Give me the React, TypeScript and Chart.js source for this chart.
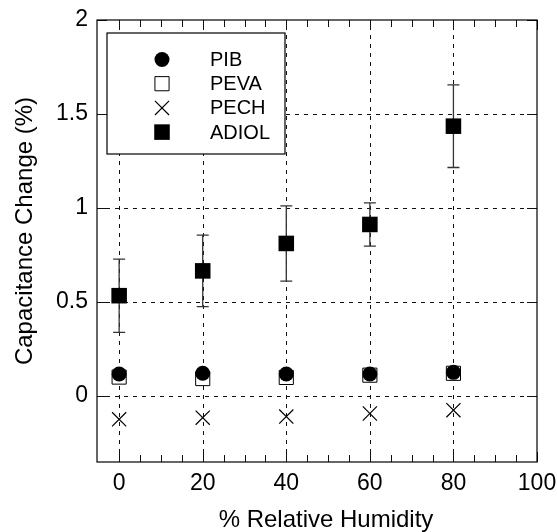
import React, { useEffect, useRef } from 'react';
import { Chart, registerables } from 'chart.js';

Chart.register(...registerables);

// ---- data ----
const humidity = [0, 20, 40, 60, 80];
const pib = [0.116, 0.12, 0.116, 0.116, 0.125];
const peva = [0.1, 0.092, 0.098, 0.11, 0.12];
const pech = [-0.125, -0.116, -0.11, -0.094, -0.076];
const adiol = [0.533, 0.665, 0.811, 0.912, 1.435];
const adiolErr = [0.195, 0.19, 0.2, 0.115, 0.22];

const seriesNames = ['PIB', 'PEVA', 'PECH', 'ADIOL'];
const xTicks = [0, 20, 40, 60, 80, 100];
const yTicks = [0, 0.5, 1, 1.5, 2];
const yTickLabels = ['0', '0.5', '1', '1.5', '2'];
const xMinorTicks = [0, 5, 10, 15, 20, 25, 30, 35, 40, 45, 50, 55, 60, 65, 70, 75, 80, 85, 90, 95, 100];

const xTitle = '% Relative Humidity';
const yTitle = 'Capacitance Change (%)';

const FONT = '"Liberation Sans", Arial, Helvetica, sans-serif';

const framePlugin = {
  id: 'frame',
  beforeDatasetsDraw(chart: any) {
    const { ctx, chartArea: a, scales } = chart;
    const x = scales.x;
    const y = scales.y;
    ctx.save();
    // dashed grid
    ctx.strokeStyle = '#111';
    ctx.lineWidth = 1;
    ctx.setLineDash([4, 5]);
    xTicks.forEach((v) => {
      const px = Math.round(x.getPixelForValue(v)) + 0.5;
      if (px <= a.left + 1 || px >= a.right - 1) return;
      ctx.beginPath();
      ctx.moveTo(px, a.bottom);
      ctx.lineTo(px, a.top);
      ctx.stroke();
    });
    yTicks.forEach((v) => {
      const py = Math.round(y.getPixelForValue(v)) + 0.5;
      if (py <= a.top + 1 || py >= a.bottom - 1) return;
      ctx.beginPath();
      ctx.moveTo(a.left, py);
      ctx.lineTo(a.right, py);
      ctx.stroke();
    });
    ctx.setLineDash([]);
    // inward ticks
    ctx.strokeStyle = '#111';
    xMinorTicks.forEach((v) => {
      const px = Math.round(x.getPixelForValue(v)) + 0.5;
      const len = xTicks.includes(v) ? 10 : 7;
      ctx.beginPath();
      ctx.moveTo(px, a.bottom);
      ctx.lineTo(px, a.bottom - len);
      ctx.moveTo(px, a.top);
      ctx.lineTo(px, a.top + len);
      ctx.stroke();
    });
    yTicks.forEach((v) => {
      const py = Math.round(y.getPixelForValue(v)) + 0.5;
      ctx.beginPath();
      ctx.moveTo(a.left, py);
      ctx.lineTo(a.left + 10, py);
      ctx.moveTo(a.right, py);
      ctx.lineTo(a.right - 10, py);
      ctx.stroke();
    });
    // border
    ctx.strokeStyle = '#000';
    ctx.lineWidth = 1.2;
    ctx.strokeRect(a.left, a.top, a.right - a.left, a.bottom - a.top);
    // error bars for ADIOL
    ctx.strokeStyle = '#333';
    ctx.lineWidth = 1.3;
    humidity.forEach((h, i) => {
      const px = x.getPixelForValue(h);
      const top = y.getPixelForValue(adiol[i] + adiolErr[i]);
      const bot = y.getPixelForValue(adiol[i] - adiolErr[i]);
      ctx.beginPath();
      ctx.moveTo(px, top);
      ctx.lineTo(px, bot);
      ctx.moveTo(px - 6, top);
      ctx.lineTo(px + 6, top);
      ctx.moveTo(px - 6, bot);
      ctx.lineTo(px + 6, bot);
      ctx.stroke();
    });
    ctx.restore();
  },
  afterDraw(chart: any) {
    const { ctx } = chart;
    ctx.save();
    ctx.fillStyle = '#000';
    ctx.font = `24px ${FONT}`;
    ctx.textAlign = 'center';
    ctx.textBaseline = 'alphabetic';
    ctx.fillText(xTitle, 326, 527);
    ctx.translate(32, 231);
    ctx.rotate(-Math.PI / 2);
    ctx.fillText(yTitle, 0, 0);
    ctx.restore();
  },
};

function drawMarker(ctx: CanvasRenderingContext2D, ds: any, cx: number, cy: number) {
  const r = ds.pointRadius;
  ctx.save();
  ctx.fillStyle = ds.backgroundColor;
  ctx.strokeStyle = ds.borderColor;
  ctx.lineWidth = ds.borderWidth;
  ctx.beginPath();
  if (ds.pointStyle === 'circle') {
    ctx.arc(cx, cy, r, 0, Math.PI * 2);
    ctx.fill();
    if (ds.borderWidth) ctx.stroke();
  } else if (ds.pointStyle === 'rect') {
    const s = Math.SQRT1_2 * r;
    ctx.rect(cx - s, cy - s, 2 * s, 2 * s);
    ctx.fill();
    if (ds.borderWidth) ctx.stroke();
  } else if (ds.pointStyle === 'crossRot') {
    const s = Math.SQRT1_2 * r;
    ctx.moveTo(cx - s, cy - s);
    ctx.lineTo(cx + s, cy + s);
    ctx.moveTo(cx - s, cy + s);
    ctx.lineTo(cx + s, cy - s);
    ctx.stroke();
  }
  ctx.restore();
}

const legendPlugin = {
  id: 'boxLegend',
  afterDatasetsDraw(chart: any) {
    const { ctx } = chart;
    const bx = 107;
    const by = 33;
    const bw = 178;
    const bh = 121;
    ctx.save();
    ctx.fillStyle = '#fff';
    ctx.fillRect(bx, by, bw, bh);
    ctx.strokeStyle = '#000';
    ctx.lineWidth = 1.2;
    ctx.strokeRect(bx, by, bw, bh);
    ctx.font = `20px ${FONT}`;
    ctx.textBaseline = 'middle';
    ctx.textAlign = 'left';
    chart.data.datasets.forEach((ds: any, i: number) => {
      const cy = 59.5 + i * 24.2;
      drawMarker(ctx, ds, 162, cy);
      ctx.fillStyle = '#000';
      ctx.fillText(ds.label, 210, cy + 1);
    });
    ctx.restore();
  },
};

export default function App() {
  const ref = useRef<HTMLCanvasElement | null>(null);
  useEffect(() => {
    if (!ref.current) return;
    const toPts = (ys: number[]) => humidity.map((h, i) => ({ x: h, y: ys[i] }));
    const chart = new Chart(ref.current, {
      type: 'scatter',
      data: {
        datasets: [
          {
            label: seriesNames[0],
            data: toPts(pib),
            pointStyle: 'circle',
            pointRadius: 7.5,
            backgroundColor: '#000',
            borderColor: '#000',
            borderWidth: 0,
          },
          {
            label: seriesNames[1],
            data: toPts(peva),
            pointStyle: 'rect',
            pointRadius: 10,
            backgroundColor: '#fff',
            borderColor: '#000',
            borderWidth: 1,
          },
          {
            label: seriesNames[2],
            data: toPts(pech),
            pointStyle: 'crossRot',
            pointRadius: 10,
            backgroundColor: '#000',
            borderColor: '#000',
            borderWidth: 1.2,
          },
          {
            label: seriesNames[3],
            data: toPts(adiol),
            pointStyle: 'rect',
            pointRadius: 11,
            backgroundColor: '#000',
            borderColor: '#000',
            borderWidth: 0,
          },
        ] as any,
      },
      options: {
        animation: false,
        responsive: false,
        devicePixelRatio: 1,
        layout: { padding: { top: 20, right: 20, left: 0, bottom: 0 } },
        plugins: {
          legend: { display: false },
          tooltip: { enabled: false },
        },
        scales: {
          x: {
            type: 'linear',
            min: -5.3,
            max: 100,
            afterBuildTicks: (scale: any) => {
              scale.ticks = xTicks.map((v) => ({ value: v }));
            },
            afterFit: (scale: any) => {
              scale.height = 70;
              scale.paddingLeft = 0;
              scale.paddingRight = 0;
            },
            grid: { display: false, drawTicks: false },
            border: { display: false },
            ticks: {
              color: '#000',
              font: { family: FONT, size: 23 },
              padding: 8,
              maxRotation: 0,
              autoSkip: false,
              callback: (v: any) => String(v),
            },
          },
          y: {
            type: 'linear',
            min: -0.352,
            max: 2,
            afterBuildTicks: (scale: any) => {
              scale.ticks = yTicks.map((v) => ({ value: v }));
            },
            afterFit: (scale: any) => {
              scale.width = 97;
              scale.paddingTop = 0;
              scale.paddingBottom = 0;
            },
            grid: { display: false, drawTicks: false },
            border: { display: false },
            ticks: {
              color: '#000',
              font: { family: FONT, size: 23 },
              padding: 9,
              autoSkip: false,
              callback: (v: any) => {
                const idx = yTicks.indexOf(Number(v));
                return idx >= 0 ? yTickLabels[idx] : '';
              },
            },
          },
        },
      },
      plugins: [framePlugin, legendPlugin],
    });
    return () => chart.destroy();
  }, []);
  return (
    <div style={{ position: 'absolute', left: 0, top: 0, width: 557, height: 532, background: '#fff' }}>
      <canvas ref={ref} width={557} height={532} style={{ width: 557, height: 532, display: 'block' }} />
    </div>
  );
}
